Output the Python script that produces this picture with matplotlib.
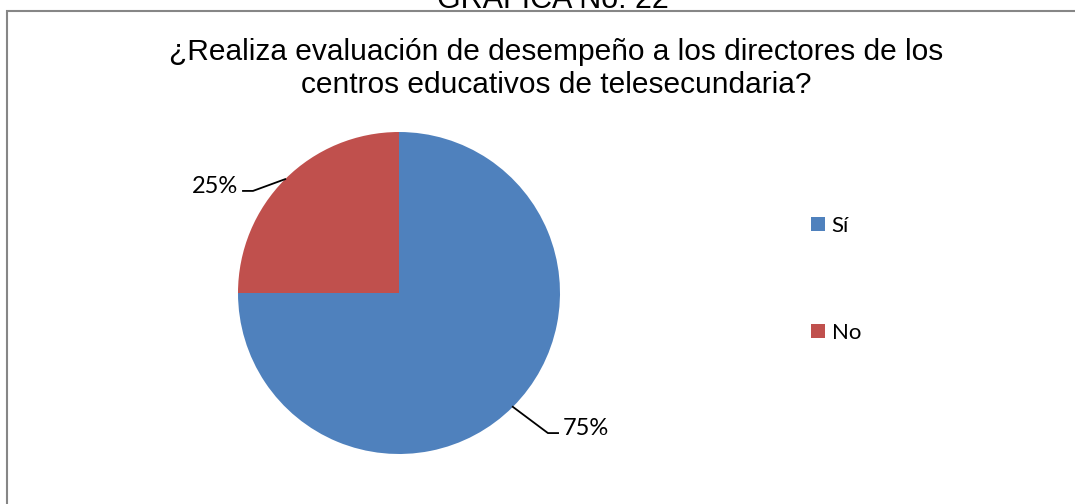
import numpy as np
import matplotlib.pyplot as plt
from matplotlib.patches import Rectangle

# datos
categorias = ['Sí', 'No']
valores = [75, 25]
colores = ['#4F81BD', '#C0504D']
titulo = ['¿Realiza evaluación de desempeño a los directores de los',
          'centros educativos de telesecundaria?']

W, H = 1075, 504
fig = plt.figure(figsize=(W/100, H/100), dpi=100)

# marco gris del grafico
fig.patches.append(Rectangle((7/W, -0.1), 1.2, (H-11)/H + 0.1, transform=fig.transFigure,
                             fill=False, edgecolor='#868686', linewidth=1.5))

fig.text(553/W, 1 - 8/H, 'GRAFICA No. 22', ha='center', va='baseline',
         fontsize=22, family='Liberation Sans')
fig.text(556/W, 1 - 60/H, titulo[0], ha='center', va='baseline',
         fontsize=21.5, family='Liberation Sans')
fig.text(556/W, 1 - 93/H, titulo[1], ha='center', va='baseline',
         fontsize=21.5, family='Liberation Sans')

# pastel: centro (399, 293) px, radio 161 px
cx, cy, r = 399, 293, 161
ax = fig.add_axes([(cx-r)/W, (H-cy-r)/H, 2*r/W, 2*r/H])
wedges, _ = ax.pie(valores, colors=colores, startangle=90, counterclock=False, radius=1)
ax.set_xlim(-1, 1)
ax.set_ylim(-1, 1)

# lineas guia y etiquetas
guias = {'No': [(-0.907, 0.634), (-0.969, 0.634)],
         'Sí': [(0.925, -0.870), (0.988, -0.870)]}
for w, cat, v in zip(wedges, categorias, valores):
    ang = np.deg2rad((w.theta1 + w.theta2) / 2)
    x0, y0 = np.cos(ang), np.sin(ang)
    (ex, ey), (fx, fy) = guias[cat]
    ax.plot([x0, ex, fx], [y0, ey, fy], color='black', lw=1.3, clip_on=False)
    lado = 1 if fx > 0 else -1
    ax.text(fx + lado*0.03, fy - 0.01, f'{v}%', ha='left' if lado > 0 else 'right',
            va='baseline', fontsize=17, family='Lato')

fig.legend(wedges, categorias, loc='upper left', bbox_to_anchor=(811/W, 1 - 216/H),
           frameon=False, prop={'family': 'Lato', 'size': 16}, handlelength=0.63,
           handleheight=0.63, handletextpad=0.3, labelspacing=3.9, borderpad=0,
           borderaxespad=0)

fig.savefig('out.png', dpi=100)
